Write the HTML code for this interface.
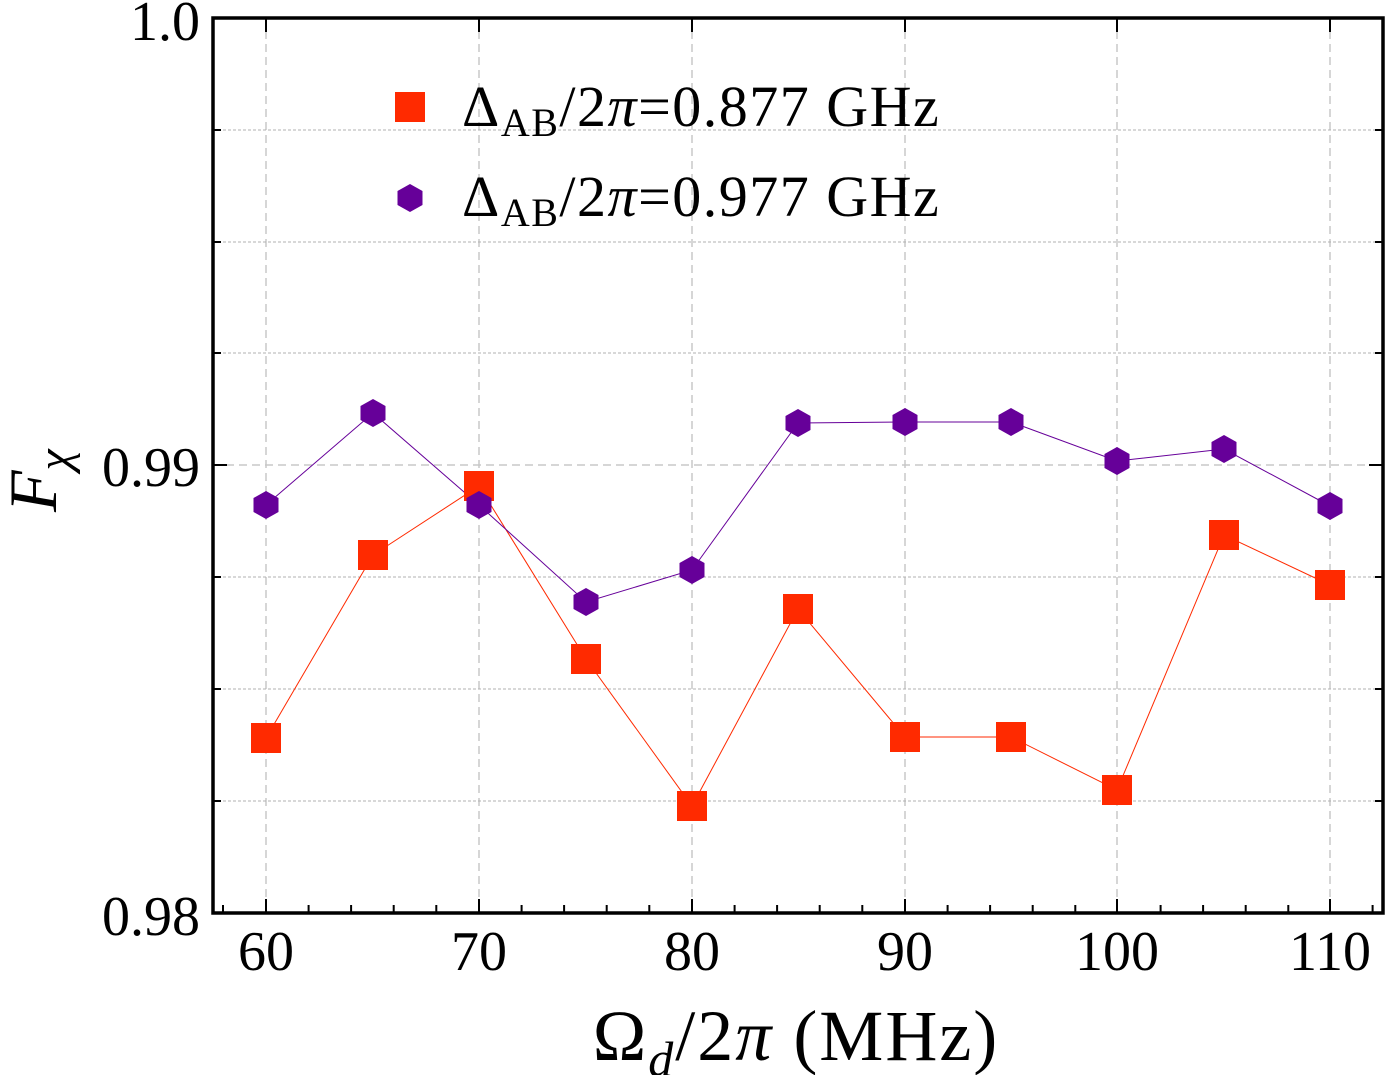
<!DOCTYPE html>
<html><head><style>body{margin:0;background:#fff}svg{display:block}</style></head><body>
<svg width="1386" height="1075" viewBox="0 0 1386 1075" xmlns="http://www.w3.org/2000/svg" font-family="Liberation Serif, DejaVu Serif, serif">
<g stroke="#c8c8c8" stroke-width="1.5" stroke-dasharray="8,5">
<line x1="266" y1="18" x2="266" y2="913"/><line x1="479" y1="18" x2="479" y2="913"/><line x1="692" y1="18" x2="692" y2="913"/><line x1="905" y1="18" x2="905" y2="913"/><line x1="1117" y1="18" x2="1117" y2="913"/><line x1="1330" y1="18" x2="1330" y2="913"/>
<line x1="213" y1="465" x2="1383" y2="465"/>
</g>
<g stroke="#b0b0b0" stroke-width="1" stroke-dasharray="3,2">
<line x1="213" y1="130" x2="1383" y2="130"/><line x1="213" y1="242" x2="1383" y2="242"/><line x1="213" y1="353" x2="1383" y2="353"/><line x1="213" y1="577" x2="1383" y2="577"/><line x1="213" y1="689" x2="1383" y2="689"/><line x1="213" y1="801" x2="1383" y2="801"/>
</g>
<g stroke="#000" stroke-width="2">
<path d="M266 913v-14M479 913v-14M692 913v-14M905 913v-14M1117 913v-14M1330 913v-14M266 18v14M479 18v14M692 18v14M905 18v14M1117 18v14M1330 18v14"/>
<path d="M223 913v-8M308.6 913v-8M351.1 913v-8M393.7 913v-8M436.3 913v-8M521.6 913v-8M564.1 913v-8M606.7 913v-8M649.3 913v-8M734.6 913v-8M777.1 913v-8M819.7 913v-8M862.3 913v-8M947.6 913v-8M990.1 913v-8M1032.7 913v-8M1075.3 913v-8M1160.6 913v-8M1203.1 913v-8M1245.7 913v-8M1288.3 913v-8M1372.6 913v-8"/>
<path d="M213 465h14M1383 465h-14M213 130h8M213 242h8M213 353h8M213 577h8M213 689h8M213 801h8M1383 130h-8M1383 242h-8M1383 353h-8M1383 577h-8M1383 689h-8M1383 801h-8"/>
</g>
<polyline fill="none" stroke="#ff2a00" stroke-width="1" points="266,738 373,555 479,486 586,659 692,806 798,609 905,737 1011,737 1117,790 1224,535 1330,585"/>
<polyline fill="none" stroke="#660099" stroke-width="1" points="266,505 373,413 479,505 586,602 692,570 798,423 905,422 1011,422 1117,461 1224,449 1330,506"/>
<g fill="#ff2a00">
<rect x="251" y="723" width="30" height="30"/><rect x="358" y="540" width="30" height="30"/><rect x="464" y="471" width="30" height="30"/><rect x="571" y="644" width="30" height="30"/><rect x="677" y="791" width="30" height="30"/><rect x="783" y="594" width="30" height="30"/><rect x="890" y="722" width="30" height="30"/><rect x="996" y="722" width="30" height="30"/><rect x="1102" y="775" width="30" height="30"/><rect x="1209" y="520" width="30" height="30"/><rect x="1315" y="570" width="30" height="30"/>
<rect x="395" y="92" width="30" height="30"/>
</g>
<defs><path id="h" d="M0,-14 L12.5,-7 L12.5,7 L0,14 L-12.5,7 L-12.5,-7Z" fill="#660099"/></defs>
<use href="#h" x="266" y="505"/><use href="#h" x="373" y="413"/><use href="#h" x="479" y="505"/><use href="#h" x="586" y="602"/><use href="#h" x="692" y="570"/><use href="#h" x="798" y="423"/><use href="#h" x="905" y="422"/><use href="#h" x="1011" y="422"/><use href="#h" x="1117" y="461"/><use href="#h" x="1224" y="449"/><use href="#h" x="1330" y="506"/>
<use href="#h" x="410" y="198"/>
<rect x="213" y="18" width="1170" height="895" fill="none" stroke="#000" stroke-width="3.5"/>
<g font-size="56" text-anchor="end">
<text x="200" y="40">1.0</text><text x="200" y="486">0.99</text><text x="200" y="935">0.98</text>
</g>
<g font-size="56" text-anchor="middle">
<text x="266" y="970">60</text><text x="479" y="970">70</text><text x="692" y="970">80</text><text x="905" y="970">90</text><text x="1117" y="970">100</text><text x="1330" y="970">110</text>
</g>
<text x="796" y="1060" font-size="72" text-anchor="middle" letter-spacing="2">Ω<tspan font-style="italic" font-size="50" dy="16">d</tspan><tspan dy="-16">/2</tspan><tspan font-style="italic">π</tspan> (MHz)</text>
<text transform="translate(56,512) rotate(-90)" font-size="68" font-style="italic">F<tspan font-size="48" dy="14">χ</tspan></text>
<g font-size="58" letter-spacing="1.5">
<text x="462" y="126">Δ<tspan font-size="40" dy="10">AB</tspan><tspan dy="-10">/2</tspan><tspan font-style="italic">π</tspan>=0.877 GHz</text>
<text x="462" y="216">Δ<tspan font-size="40" dy="10">AB</tspan><tspan dy="-10">/2</tspan><tspan font-style="italic">π</tspan>=0.977 GHz</text>
</g>
</svg>
</body></html>
